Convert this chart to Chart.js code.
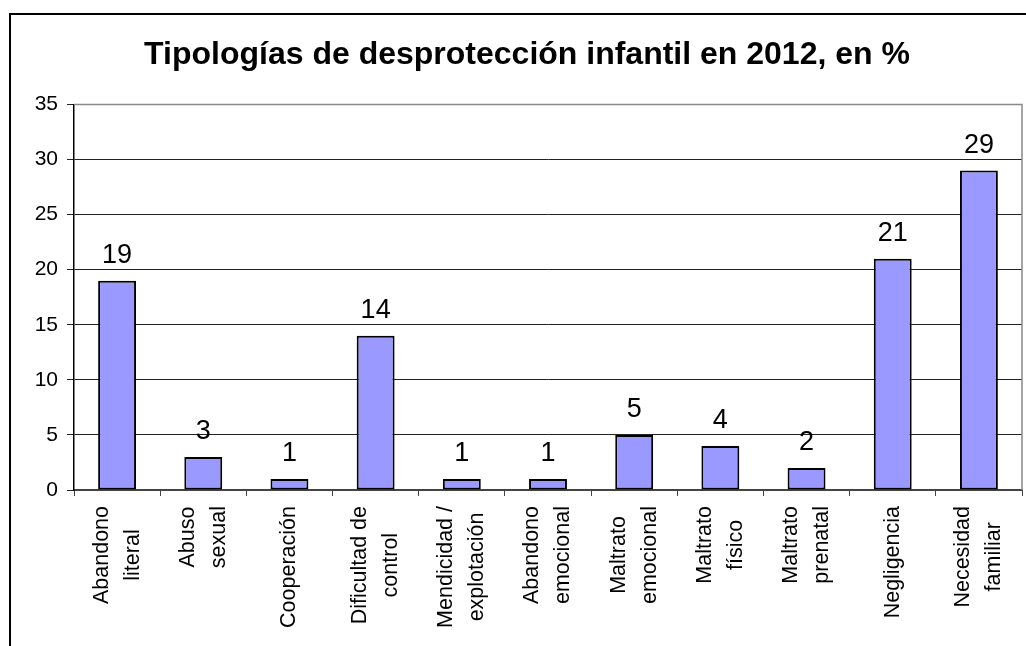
<!DOCTYPE html>
<html>
<head>
<meta charset="utf-8">
<script src="https://cdn.jsdelivr.net/npm/chart.js@4"></script>
<style>
  html, body { margin: 0; padding: 0; background: #fff; overflow: hidden; }
  #wrap { width: 1026px; height: 646px; }
</style>
</head>
<body>
<div id="wrap"><canvas id="myChart" width="1026" height="646"></canvas></div>
<script>
// data
const categories = [
  ['Abandono', 'literal'],
  ['Abuso', 'sexual'],
  ['Cooperación'],
  ['Dificultad de', 'control'],
  ['Mendicidad /', 'explotación'],
  ['Abandono', 'emocional'],
  ['Maltrato', 'emocional'],
  ['Maltrato', 'físico'],
  ['Maltrato', 'prenatal'],
  ['Negligencia'],
  ['Necesidad', 'familiar']
]
const percentages = [19, 3, 1, 14, 1, 1, 5, 4, 2, 21, 29]
const yTicks = [0, 5, 10, 15, 20, 25, 30, 35]
const titleText = 'Tipologías de desprotección infantil en 2012, en %'

const FONT = 'Liberation Sans, Arial, sans-serif'

// outer frame + plot area border
const framePlugin = {
  id: 'frame',
  beforeDraw(chart) {
    const c = chart.ctx
    c.save()
    c.strokeStyle = '#000'
    c.lineWidth = 2
    c.beginPath()
    c.moveTo(10, 660)
    c.lineTo(10, 14)
    c.lineTo(1040, 14)
    c.stroke()
    c.restore()
  },
  afterDraw(chart) {
    const a = chart.chartArea
    const c = chart.ctx
    c.save()
    c.strokeStyle = '#888'
    c.lineWidth = 1.5
    c.beginPath()
    c.moveTo(a.left, a.top)
    c.lineTo(a.right, a.top)
    c.lineTo(a.right, a.bottom)
    c.stroke()
    c.restore()
  }
}

// value labels above the bars
const valueLabels = {
  id: 'valueLabels',
  afterDatasetsDraw(chart) {
    const c = chart.ctx
    const meta = chart.getDatasetMeta(0)
    c.save()
    c.font = '27px ' + FONT
    c.fillStyle = '#000'
    c.textAlign = 'center'
    c.textBaseline = 'alphabetic'
    meta.data.forEach((bar, i) => {
      c.fillText(String(percentages[i]), bar.x, bar.y - 18)
    })
    c.restore()
  }
}

// vertical category labels, lines centred on each other like a rotated text block
const xLabels = {
  id: 'xLabels',
  afterDraw(chart) {
    const scale = chart.scales.x
    const c = chart.ctx
    const gap = 31
    c.save()
    c.font = '21.5px ' + FONT
    c.fillStyle = '#000'
    c.textAlign = 'center'
    c.textBaseline = 'middle'
    categories.forEach((lines, i) => {
      const px = scale.getPixelForTick(i)
      const longest = Math.max(...lines.map(l => c.measureText(l).width))
      const cy = scale.top + 16 + longest / 2
      lines.forEach((line, j) => {
        const cx = px + (j - (lines.length - 1) / 2) * gap
        c.save()
        c.translate(cx, cy)
        c.rotate(-Math.PI / 2)
        c.fillText(line, 0, 0)
        c.restore()
      })
    })
    c.restore()
  }
}

const ctx = document.getElementById('myChart').getContext('2d')
const chart = new Chart(ctx, {
  type: 'bar',
  data: {
    labels: categories,
    datasets: [{
      data: percentages,
      backgroundColor: '#9999FF',
      borderColor: '#000',
      borderWidth: 2,
      borderSkipped: false,
      barPercentage: 0.44,
      categoryPercentage: 1
    }]
  },
  options: {
    responsive: false,
    animation: false,
    layout: { padding: { left: 32, right: 4, top: 14, bottom: 0 } },
    plugins: {
      legend: { display: false },
      tooltip: { enabled: false },
      title: {
        display: true,
        text: titleText,
        color: '#000',
        font: { family: FONT, size: 32, weight: 'bold', lineHeight: 1.2 },
        padding: { top: 22, bottom: 30 }
      }
    },
    scales: {
      x: {
        grid: {
          display: true,
          drawOnChartArea: false,
          offset: true,
          tickLength: 6,
          color: '#444'
        },
        border: { color: '#444', width: 2 },
        ticks: { display: false, autoSkip: false },
        afterFit(scale) { scale.height = 156 }
      },
      y: {
        min: 0,
        max: 35,
        afterBuildTicks(scale) { scale.ticks = yTicks.map(v => ({ value: v })) },
        grid: {
          color: '#222',
          lineWidth: 1,
          tickLength: 7
        },
        border: { color: '#000', width: 1.5 },
        ticks: {
          color: '#000',
          padding: 9,
          font: { family: FONT, size: 21 }
        },
        afterFit(scale) { scale.width = 42 }
      }
    }
  },
  plugins: [framePlugin, valueLabels, xLabels]
})
</script>
</body>
</html>
